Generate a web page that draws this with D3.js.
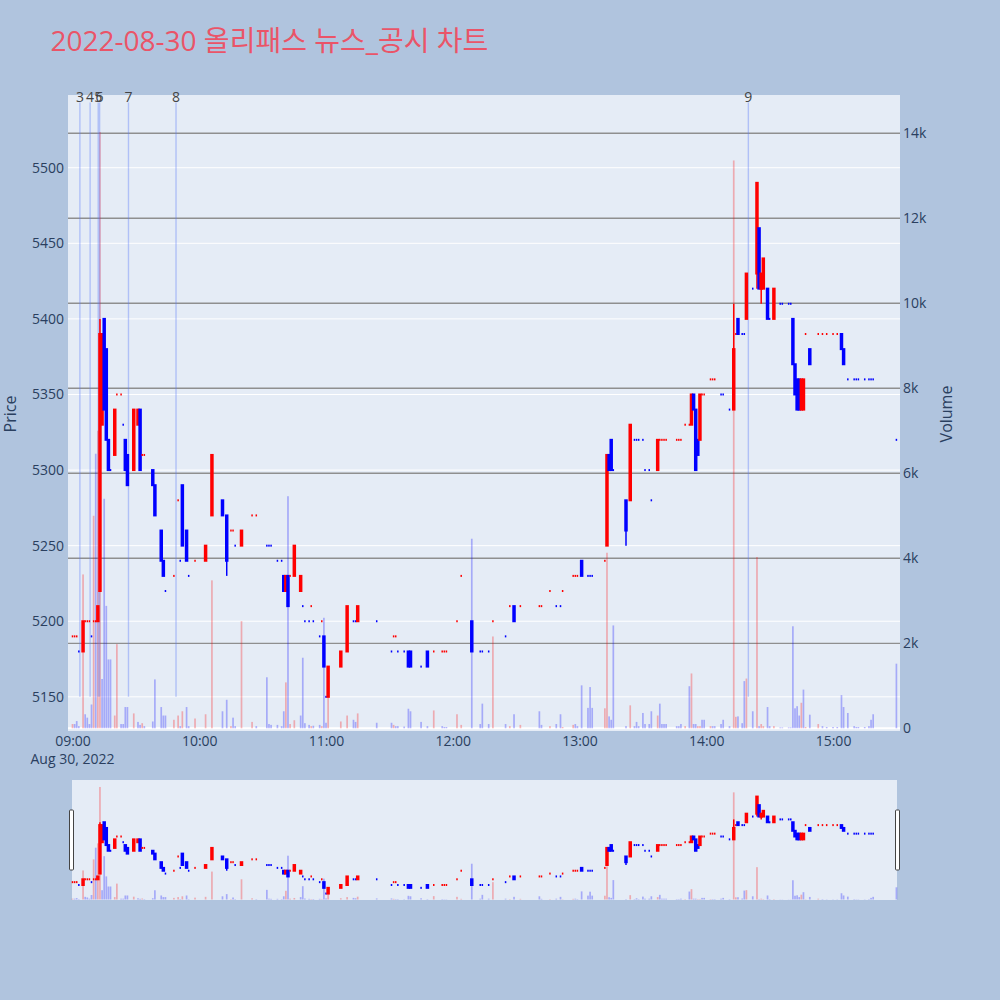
<!DOCTYPE html>
<html><head><meta charset="utf-8">
<script src="https://cdn.jsdelivr.net/npm/d3@7"></script>
<style>
body{margin:0;background:#b0c4de;}
svg{display:block;}
</style>
</head><body>
<svg id="chart" width="1000" height="1000"></svg>
<script>
// ---------------- DATA ----------------
const titleText = "2022-08-30 올리패스 뉴스_공시 차트";
const dateLabel = "Aug 30, 2022";
const times = [
"09:00","09:01","09:02","09:03","09:05","09:06","09:07","09:08","09:09","09:10",
"09:11","09:12","09:13","09:14","09:15","09:16","09:17","09:18","09:20","09:21",
"09:23","09:24","09:25","09:26","09:29","09:31","09:32","09:33","09:34","09:38",
"09:39","09:42","09:43","09:44","09:48","09:50","09:51","09:52","09:54","09:55",
"09:58","10:03","10:06","10:11","10:13","10:15","10:16","10:17","10:20","10:25",
"10:27","10:32","10:33","10:34","10:37","10:39","10:40","10:41","10:42","10:43",
"10:45","10:48","10:49","10:50","10:52","10:53","10:54","10:57","10:58","10:59",
"11:00","11:01","11:07","11:10","11:13","11:14","11:15","11:24","11:31","11:32",
"11:33","11:34","11:37","11:39","11:40","11:45","11:48","11:51","11:55","11:56",
"11:57","12:02","12:04","12:09","12:13","12:14","12:17","12:19","12:25","12:27",
"12:29","12:32","12:41","12:42","12:46","12:49","12:51","12:52","12:57","12:58",
"12:59","13:01","13:04","13:05","13:06","13:12","13:13","13:14","13:15","13:16",
"13:22","13:24","13:26","13:27","13:28","13:30","13:31","13:33","13:34","13:37",
"13:38","13:39","13:40","13:41","13:46","13:47","13:48","13:50","13:52","13:53",
"13:54","13:55","13:56","13:57","13:58","13:59","14:02","14:03","14:04","14:07",
"14:08","14:11","14:13","14:14","14:15","14:17","14:18","14:19","14:22","14:24",
"14:25","14:26","14:27","14:29","14:30","14:32","14:35","14:36","14:39","14:40",
"14:41","14:42","14:43","14:44","14:45","14:46","14:47","14:49","14:53","14:55",
"14:57","15:00","15:02","15:04","15:05","15:07","15:10","15:11","15:12","15:15",
"15:17","15:18","15:19","15:30"];
const opens = [
5190,5190,5190,5180,5180,5200,5200,5200,5190,5200,
5200,5200,5220,5330,5400,5380,5320,5300,5310,5350,
5350,5330,5320,5310,5300,5330,5340,5310,5310,5300,
5290,5260,5240,5220,5230,5280,5240,5290,5260,5230,
5240,5240,5270,5280,5270,5260,5260,5250,5250,5270,
5270,5250,5250,5250,5240,5240,5230,5220,5230,5230,
5230,5220,5210,5200,5200,5210,5200,5190,5200,5190,
5150,5150,5170,5180,5200,5200,5200,5200,5180,5190,
5190,5180,5180,5180,5180,5170,5180,5180,5180,5180,
5180,5200,5230,5200,5180,5180,5180,5200,5190,5210,
5210,5210,5210,5210,5220,5210,5210,5220,5230,5230,
5230,5240,5230,5230,5230,5240,5250,5310,5320,5300,
5280,5280,5320,5320,5320,5320,5300,5300,5280,5300,
5320,5320,5320,5320,5320,5320,5320,5330,5330,5330,
5350,5340,5320,5320,5350,5350,5360,5360,5360,5350,
5350,5340,5340,5390,5400,5390,5390,5400,5420,5430,
5460,5420,5420,5420,5400,5400,5410,5410,5410,5410,
5400,5370,5360,5360,5340,5340,5390,5380,5390,5390,
5390,5390,5390,5390,5380,5360,5360,5360,5360,5360,
5360,5360,5360,5320];
const highs = [
5190,5190,5190,5180,5200,5200,5200,5200,5190,5200,
5200,5210,5400,5390,5400,5380,5320,5300,5340,5350,
5350,5330,5320,5310,5340,5340,5340,5310,5310,5300,
5290,5260,5240,5220,5230,5280,5240,5290,5260,5230,
5240,5250,5310,5280,5270,5260,5260,5250,5260,5270,
5270,5250,5250,5250,5240,5240,5230,5230,5230,5230,
5250,5230,5210,5200,5200,5210,5200,5190,5200,5190,
5150,5170,5180,5210,5200,5200,5210,5200,5180,5190,
5190,5180,5180,5180,5180,5170,5180,5180,5180,5180,
5180,5200,5230,5200,5180,5180,5180,5200,5190,5210,
5210,5210,5210,5210,5220,5210,5210,5220,5230,5230,
5230,5240,5230,5230,5230,5240,5310,5310,5320,5300,
5280,5330,5320,5320,5320,5320,5300,5300,5280,5320,
5320,5320,5320,5320,5320,5320,5320,5330,5330,5350,
5350,5340,5320,5350,5350,5350,5360,5360,5360,5350,
5350,5340,5410,5390,5400,5390,5390,5430,5420,5490,
5460,5430,5440,5420,5400,5420,5410,5410,5410,5410,
5400,5370,5360,5360,5360,5360,5390,5380,5390,5390,
5390,5390,5390,5390,5380,5360,5360,5360,5360,5360,
5360,5360,5360,5320];
const lows = [
5190,5190,5190,5180,5180,5200,5200,5200,5190,5200,
5200,5200,5220,5330,5340,5320,5300,5300,5310,5350,
5350,5330,5300,5290,5300,5330,5300,5310,5310,5290,
5270,5240,5230,5220,5230,5280,5240,5250,5240,5230,
5240,5240,5270,5270,5230,5260,5260,5250,5250,5270,
5270,5250,5250,5250,5240,5240,5220,5220,5210,5230,
5230,5220,5210,5200,5200,5210,5200,5190,5200,5170,
5150,5150,5170,5180,5200,5200,5200,5200,5180,5190,
5190,5180,5180,5170,5170,5170,5170,5180,5180,5180,
5180,5200,5230,5180,5180,5180,5180,5200,5190,5210,
5200,5210,5210,5210,5220,5210,5210,5220,5230,5230,
5230,5230,5230,5230,5230,5240,5250,5300,5300,5300,
5250,5280,5320,5320,5320,5320,5300,5300,5280,5300,
5320,5320,5320,5320,5320,5320,5320,5330,5330,5330,
5340,5300,5310,5320,5350,5350,5360,5360,5360,5350,
5350,5340,5340,5390,5390,5390,5390,5400,5420,5420,
5420,5410,5420,5400,5400,5400,5410,5410,5410,5410,
5370,5350,5340,5340,5340,5340,5390,5370,5390,5390,
5390,5390,5390,5380,5370,5360,5360,5360,5360,5360,
5360,5360,5360,5320];
const closes = [
5190,5190,5190,5180,5200,5200,5200,5200,5190,5200,
5200,5210,5390,5390,5340,5320,5300,5300,5340,5350,
5350,5330,5300,5290,5340,5340,5300,5310,5310,5290,
5270,5240,5230,5220,5230,5280,5240,5250,5240,5230,
5240,5250,5310,5270,5240,5260,5260,5250,5260,5270,
5270,5250,5250,5250,5240,5240,5220,5230,5210,5230,
5250,5230,5210,5200,5200,5210,5200,5190,5200,5170,
5150,5170,5180,5210,5200,5200,5210,5200,5180,5190,
5190,5180,5180,5170,5170,5170,5170,5180,5180,5180,
5180,5200,5230,5180,5180,5180,5180,5200,5190,5210,
5200,5210,5210,5210,5220,5210,5210,5220,5230,5230,
5230,5230,5230,5230,5230,5240,5310,5300,5300,5300,
5260,5330,5320,5320,5320,5320,5300,5300,5280,5320,
5320,5320,5320,5320,5320,5320,5320,5330,5330,5350,
5340,5300,5310,5350,5350,5350,5360,5360,5360,5350,
5350,5340,5380,5390,5390,5390,5390,5430,5420,5490,
5420,5430,5440,5400,5400,5420,5410,5410,5410,5410,
5370,5350,5340,5340,5360,5360,5390,5370,5390,5390,
5390,5390,5390,5380,5370,5360,5360,5360,5360,5360,
5360,5360,5360,5320];
const volumes = [
100,100,170,50,3620,330,250,100,560,5000,
6460,7000,14030,1160,5400,2880,1620,1620,300,1980,
100,100,500,500,350,150,80,120,50,160,
1150,500,300,300,200,300,50,400,500,50,
230,330,3480,400,670,50,250,50,2520,150,
50,1200,100,80,80,50,400,1080,5460,100,
190,300,1660,120,80,50,60,80,50,2600,
130,730,160,300,200,150,350,130,130,80,
50,50,40,460,400,150,50,420,50,30,
30,330,80,4460,100,580,100,2160,100,50,
330,80,400,80,50,100,330,30,80,100,
50,1010,480,970,480,470,4130,280,200,2420,
50,540,50,150,50,360,100,100,400,300,
580,100,100,100,50,50,100,50,990,1290,
100,100,50,50,200,200,50,50,50,100,
200,50,13360,270,280,120,1110,1170,400,4030,
50,100,50,500,50,50,20,20,20,20,
2400,470,520,300,600,910,30,320,100,50,
30,30,30,780,500,360,50,30,30,30,
50,200,330,1520];
const newsTimes  = ["09:03:30","09:08:20","09:12:10","09:12:50","09:26:30","09:49:00","14:19:55"];
const newsLabels = ["3","4","5","6","7","8","9"];
const priceTicks = [5150,5200,5250,5300,5350,5400,5450,5500];
const volumeTicks = [0,2000,4000,6000,8000,10000,12000,14000];
const hourTicks = ["09:00","10:00","11:00","12:00","13:00","14:00","15:00"];

// ---------------- SETUP ----------------
const FONT = '"Open Sans","Noto Sans CJK KR",sans-serif';
const TXT = "#2a3f5f";
const UP = "red", DOWN = "blue";
const toDate = s => { const p = s.split(":").map(Number); return new Date(2022, 7, 30, p[0], p[1], p[2] || 0); };
const base = toDate("09:00");
const MIN = 60000;

const P = {l: 68, r: 900, t: 95, b: 731};    // main plot
const S = {l: 72, r: 897, t: 780, b: 900};   // range slider

const x = d3.scaleTime().domain([new Date(+base - 2.13 * MIN), new Date(+base + 391.7 * MIN)]).range([P.l, P.r]);
const priceDomain = [5127.4, 5548.1];
const volDomain = [-64, 14900];
const yP = d3.scaleLinear().domain(priceDomain).range([P.b, P.t]);
const yV = d3.scaleLinear().domain(volDomain).range([P.b, P.t]);
const syP = d3.scaleLinear().domain(priceDomain).range([S.b, S.t]);
const syV = d3.scaleLinear().domain(volDomain).range([S.b, S.t]);

// build records, with Plotly-like direction rule for candles
let inc = true, cPrev = null;
const data = times.map((t, i) => {
  const o = opens[i], c = closes[i];
  if (c === o) { if (cPrev !== null && c !== cPrev) inc = c > cPrev; }
  else inc = c > o;
  const volUp = i === 0 ? true : c > closes[i - 1];
  cPrev = c;
  return {date: toDate(t), o, h: highs[i], l: lows[i], c, v: volumes[i], inc, volUp};
});

const svg = d3.select("#chart").attr("font-family", FONT);
svg.append("rect").attr("width", 1000).attr("height", 1000).attr("fill", "#b0c4de");

// title
svg.append("text").attr("x", 50.5).attr("y", 51).attr("font-size", 28)
  .attr("fill", "rgb(234,84,104)").text(titleText);

// main plot background
svg.append("rect").attr("x", P.l).attr("y", P.t).attr("width", P.r - P.l).attr("height", P.b - P.t).attr("fill", "#e5ecf6");

// gridlines
const grid = svg.append("g");
grid.selectAll(".gp").data(priceTicks).join("line")
  .attr("x1", P.l).attr("x2", P.r).attr("y1", d => yP(d)).attr("y2", d => yP(d))
  .attr("stroke", "#fff").attr("stroke-width", 1);
grid.selectAll(".gv").data(volumeTicks.filter(d => d > 0)).join("line")
  .attr("x1", P.l).attr("x2", P.r).attr("y1", d => yV(d)).attr("y2", d => yV(d))
  .attr("stroke", "#8f8f8f").attr("stroke-width", 1.3);
grid.append("line").attr("x1", P.l).attr("x2", P.r).attr("y1", yV(0)).attr("y2", yV(0))
  .attr("stroke", "#fff").attr("stroke-width", 2);

function drawVolumes(g, ys) {
  g.selectAll("rect").data(data).join("rect")
    .attr("x", d => x(d.date) - 0.85).attr("width", 1.7)
    .attr("y", d => ys(d.v)).attr("height", d => Math.max(0, ys(0) - ys(d.v)))
    .attr("fill", d => d.volUp ? UP : DOWN).attr("fill-opacity", 0.28);
}
function drawCandles(g, ys) {
  const hw = 0.75;
  data.forEach(d => {
    const xc = x(d.date), col = d.inc ? UP : DOWN;
    const yo = ys(d.o), yc = ys(d.c), yh = ys(d.h), yl = ys(d.l);
    const top = Math.min(yo, yc), bot = Math.max(yo, yc);
    if (yh < top - 0.1) g.append("line").attr("x1", xc).attr("x2", xc).attr("y1", yh).attr("y2", top).attr("stroke", col).attr("stroke-width", 1.5);
    if (yl > bot + 0.1) g.append("line").attr("x1", xc).attr("x2", xc).attr("y1", bot).attr("y2", yl).attr("stroke", col).attr("stroke-width", 1.5);
    if (bot - top < 0.5) {
      g.append("rect").attr("x", xc - hw).attr("y", top - 1).attr("width", 2 * hw).attr("height", 2).attr("fill", col);
    } else {
      g.append("path").attr("d", `M${xc - hw},${bot}H${xc + hw}V${top}H${xc - hw}Z`)
        .attr("fill", col).attr("stroke", col).attr("stroke-width", 2);
    }
  });
}

// volume bars
drawVolumes(svg.append("g"), yV);

// news lines
const news = svg.append("g");
newsTimes.forEach((t, i) => {
  const xx = x(toDate(t));
  news.append("line").attr("x1", xx).attr("x2", xx).attr("y1", yP(5150)).attr("y2", 102.5)
    .attr("stroke", "rgba(90,120,250,0.38)").attr("stroke-width", 1.4);
  news.append("text").attr("x", xx).attr("y", 102).attr("text-anchor", "middle")
    .attr("font-size", 14).attr("fill", "#444").text(newsLabels[i]);
});

// candles
drawCandles(svg.append("g"), yP);

// axes
const axL = d3.axisLeft(yP).tickValues(priceTicks).tickSize(0).tickPadding(4).tickFormat(d3.format("d"));
const gL = svg.append("g").attr("transform", `translate(${P.l},0)`).call(axL);
const axR = d3.axisRight(yV).tickValues(volumeTicks).tickSize(0).tickPadding(3).tickFormat(d3.format("~s"));
const gR = svg.append("g").attr("transform", `translate(${P.r},0)`).call(axR);
const axB = d3.axisBottom(x).tickValues(hourTicks.map(toDate)).tickSize(0).tickPadding(5).tickFormat(d3.timeFormat("%H:%M"));
const gB = svg.append("g").attr("transform", `translate(0,${P.b})`).call(axB);
[gL, gR, gB].forEach(g => {
  g.select(".domain").remove();
  g.attr("font-size", 14).attr("font-family", FONT);
  g.selectAll("text").attr("fill", TXT);
});
svg.append("text").attr("x", x(base)).attr("y", 764).attr("text-anchor", "middle")
  .attr("font-size", 14).attr("fill", TXT).text(dateLabel);

// axis titles
svg.append("text").attr("transform", `translate(16,414) rotate(-90)`).attr("text-anchor", "middle")
  .attr("font-size", 16).attr("fill", TXT).text("Price");
svg.append("text").attr("transform", `translate(952,414) rotate(-90)`).attr("text-anchor", "middle")
  .attr("font-size", 16).attr("fill", TXT).text("Volume");

// range slider
svg.append("rect").attr("x", S.l).attr("y", S.t).attr("width", S.r - S.l).attr("height", S.b - S.t).attr("fill", "#e5ecf6");
const sg = svg.append("g");
drawVolumes(sg.append("g"), syV);
drawCandles(sg.append("g"), syP);
const hy = (S.t + S.b) / 2;
[S.l - 2.5, S.r - 1.5].forEach(hx => {
  svg.append("rect").attr("x", hx).attr("y", hy - 30).attr("width", 4).attr("height", 60)
    .attr("rx", 1).attr("fill", "#fff").attr("stroke", "#444").attr("stroke-width", 1);
});
</script>
</body></html>
